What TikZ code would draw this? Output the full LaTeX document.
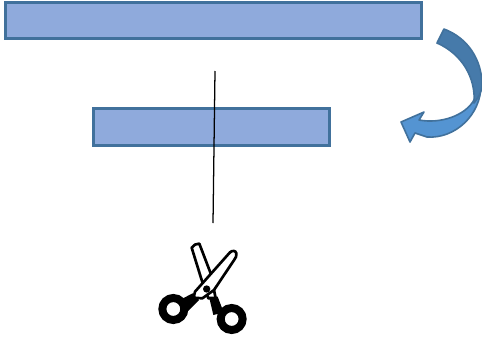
\documentclass[tikz,border=0pt]{standalone}
\usepackage{xcolor}
\definecolor{barfill}{RGB}{143,170,220}
\definecolor{baredge}{RGB}{65,113,156}
\definecolor{arrowdark}{RGB}{70,122,170}
\definecolor{arrowlight}{RGB}{84,148,210}
\tikzset{
  barbox/.style={draw=baredge, fill=barfill, line width=1.9pt, inner sep=0pt, anchor=north west},
  bladepart/.style={draw=black, fill=white, line width=2pt, line join=round},
  ringpart/.style={draw=black, line width=6pt, fill=white}
}
\begin{document}
\begin{tikzpicture}[x=.75pt,y=-.75pt]
\useasboundingbox (0,0) rectangle (482,343);
\node[barbox, minimum width=312pt, minimum height=27pt] (topbar) at (4,1) {};
\node[barbox, minimum width=177pt, minimum height=28pt] (midbar) at (92,107) {};
\coordinate (cuttop) at (215,71);
\coordinate (cutbot) at (213,223);
\draw[line width=.95pt] (cuttop) -- (cutbot);
%arrow: lower band first, then the upper band on top
\draw[draw=baredge, fill=arrowlight, line width=1.2pt, line join=round] (481,85) .. controls (481,115) and (455,139) .. (427,137)
  -- (415,133) -- (410,142) -- (401,122) -- (424,112) -- (419,120)
  .. controls (440,124) and (465,116) .. (474,100) -- cycle;
\draw[draw=baredge, fill=arrowdark, line width=1.2pt, line join=round] (444,29) .. controls (468,38) and (482,60) .. (482,85)
  .. controls (482,92) and (478,98) .. (474,103)
  .. controls (476,78) and (462,54) .. (437,43) -- cycle;
%scissors
\begin{scope}[shift={(145,235)}, scale=1/3]
\draw[bladepart] (140,38) .. controls (145,30) and (155,25) .. (163,26) -- (197,115) -- (212,190) -- (190,190) -- (170,135) -- cycle;
\fill (192,185) -- (218,185) -- (236,232) -- (205,240) -- cycle;
\draw[ringpart] (260,252) circle[radius=33];
\fill (110,192) -- (143,175) -- (162,195) -- (125,232) -- cycle;
\draw[bladepart] (255,52) .. controls (262,46) and (272,46) .. (274,55) .. controls (276,62) and (272,68) .. (268,74)
  -- (207,165) -- (172,190) -- (146,188) -- (150,170) -- cycle;
\draw[ringpart] (85,222) circle[radius=33];
\fill (185,162) circle[radius=11];
\end{scope}
\end{tikzpicture}
\end{document}
